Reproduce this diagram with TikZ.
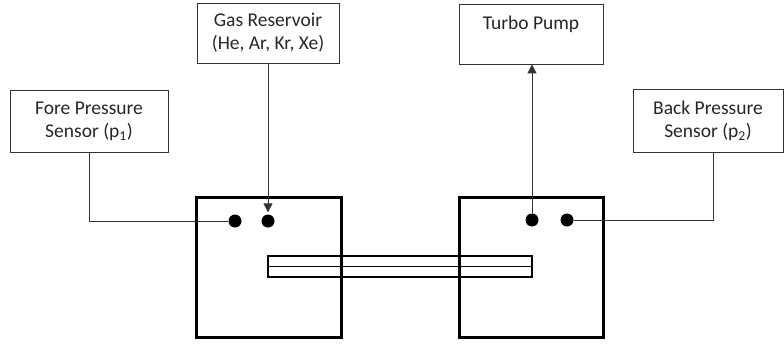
\documentclass[tikz,border=0pt]{standalone}
\usepackage{fontspec}
\setmainfont{Carlito}
\usetikzlibrary{arrows.meta,calc}

\tikzset{
  infobox/.style={draw=black!80, line width=0.9pt, align=center, inner sep=0pt,
    font=\fontsize{19.5}{23}\selectfont, text=black!85},
  port/.style={circle, fill=black, inner sep=0pt, minimum size=13pt},
  wire/.style={draw=black!80, line width=1pt},
  flow/.style={wire, -{Triangle[length=9pt,width=9pt]}}
}

\begin{document}
\begin{tikzpicture}[x=1pt, y=-1pt, line join=miter]
\useasboundingbox (0,0) rectangle (784,343);

% --- sensors, reservoir and pump ---
\node[infobox, minimum width=158pt, minimum height=62pt] (fore) at (89,121)
  {Fore Pressure\\Sensor (p\textsubscript{1})};
\node[infobox, minimum width=142pt, minimum height=60pt] (gas) at (268,33)
  {Gas Reservoir\\(He, Ar, Kr, Xe)};
\node[infobox, minimum width=144pt, minimum height=60pt] (pump) at (531,34)
  {Turbo Pump\\~};
\node[infobox, minimum width=150pt, minimum height=63pt] (back) at (708,120.5)
  {Back Pressure\\Sensor (p\textsubscript{2})};

% --- the two chambers ---
\draw[line width=3pt] (196,197) rectangle (341,337);
\draw[line width=3pt] (459,197) rectangle (603,337);

% --- connecting tube ---
\draw[line width=2pt] (268,256) rectangle (532,277);
\draw[line width=1.2pt] (268,266.5) -- (532,266.5);

% --- ports in the chambers ---
\node[port] (p1) at (235,221) {};
\node[port] (gasin) at (268,221) {};
\node[port] (pumpout) at (532,220) {};
\node[port] (p2) at (567,220) {};

% --- connectors ---
\draw[wire] (fore.south) |- (p1);
\draw[flow, shorten >=2pt] (gas.south) -- (gasin.north);
\draw[flow] (pumpout) -- (pumpout |- pump.south);
\draw[wire] ([xshift=5pt]back.south) |- (p2);

\end{tikzpicture}
\end{document}
